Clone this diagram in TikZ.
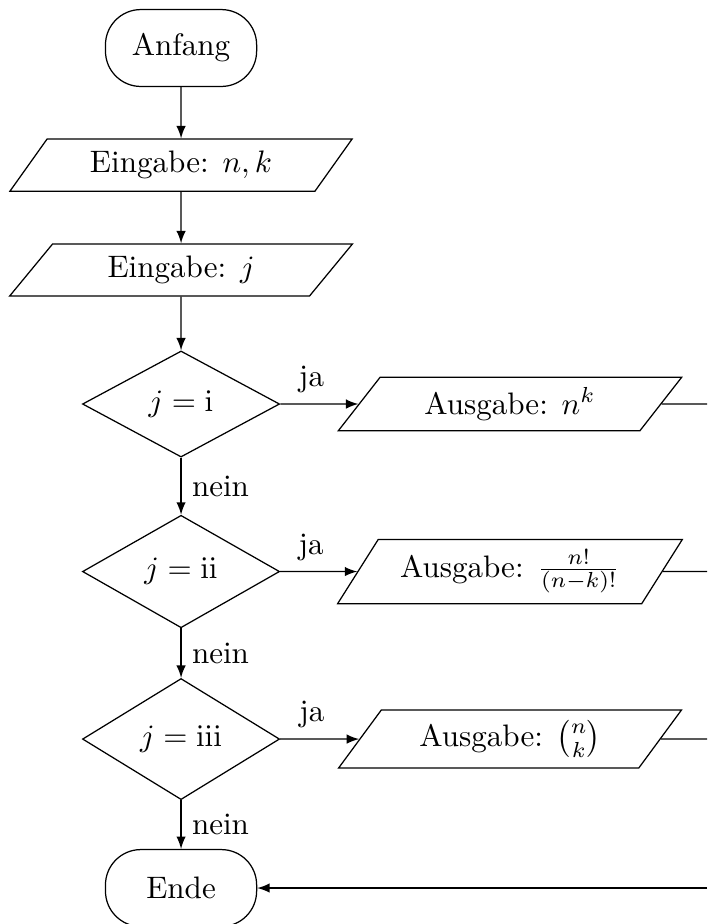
\documentclass[tikz,border=0pt]{standalone}
\usepackage{amsmath}
\usetikzlibrary{shapes.geometric}

\tikzset{
    >=latex,
    startstop/.style={draw, rectangle, rounded corners=0.4cm,
        minimum width=1.71cm, minimum height=0.87cm},
    io/.style={draw, trapezium, trapezium left angle=60, trapezium right angle=120,
        trapezium stretches=true, minimum width=3.9cm, minimum height=0.59cm},
    decision/.style={draw, diamond, minimum width=2.23cm, minimum height=1.2cm, inner sep=1pt}
}

\begin{document}
\begin{tikzpicture}
        \useasboundingbox (0, 0) rectangle (8, -10.452);

        %%nodes
        \node[startstop] (anfang) at(2.048, -0.543){Anfang};
        \node[io] (eingabenk) at(2.048, -1.867){Eingabe: $n,k$};
        \node[io] (eingabej) at(2.048, -3.054){Eingabe: $j$};
        \node[decision] (fall1) at(2.048, -4.570){$j=\mathrm{i}$};
        \node[decision] (fall2) at(2.048, -6.465){$j=\mathrm{ii}$};
        \node[decision] (fall3) at(2.048, -8.360){$j=\mathrm{iii}$};
        \node[startstop] (ende) at(2.048, -10.045){Ende};

        \node[io] (ausgabe1) at(5.769, -4.570){Ausgabe: $n^k$};
        \node[io] (ausgabe2) at(5.769, -6.465){Ausgabe: $\frac{n!}{(n-k)!}$};
        \node[io] (ausgabe3) at(5.769, -8.360){Ausgabe: $\binom{n}{k}$};

        %% rechter Rand
        \coordinate (rand1) at(8, -4.570);
        \coordinate (rand2) at(8, -6.465);
        \coordinate (rand3) at(8, -8.360);
        \coordinate (rand4) at(8, -10.045);

        %%arrows
        \draw[->] (anfang) to (eingabenk);
        \draw[->] (eingabenk) to (eingabej);
        \draw[->] (eingabej) to (fall1);

        \draw[->] (fall1) to node[above, pos=.4]{ja} (ausgabe1);
        \draw[->] (fall1) to node[right]{nein} (fall2);
            \draw(ausgabe1.east) to (rand1);
        \draw[->] (fall2) to node[above, pos=.4]{ja} (ausgabe2);
        \draw[->] (fall2) to node[right]{nein} (fall3);
            \draw(ausgabe2.east) to (rand2);
        \draw[->] (fall3) to node[above, pos=.4]{ja} (ausgabe3);
        \draw[->] (fall3) to node[right]{nein} (ende);
            \draw(ausgabe3.east) to (rand3);

        \draw[->] (rand4) to (ende);
    \end{tikzpicture}
\end{document}
